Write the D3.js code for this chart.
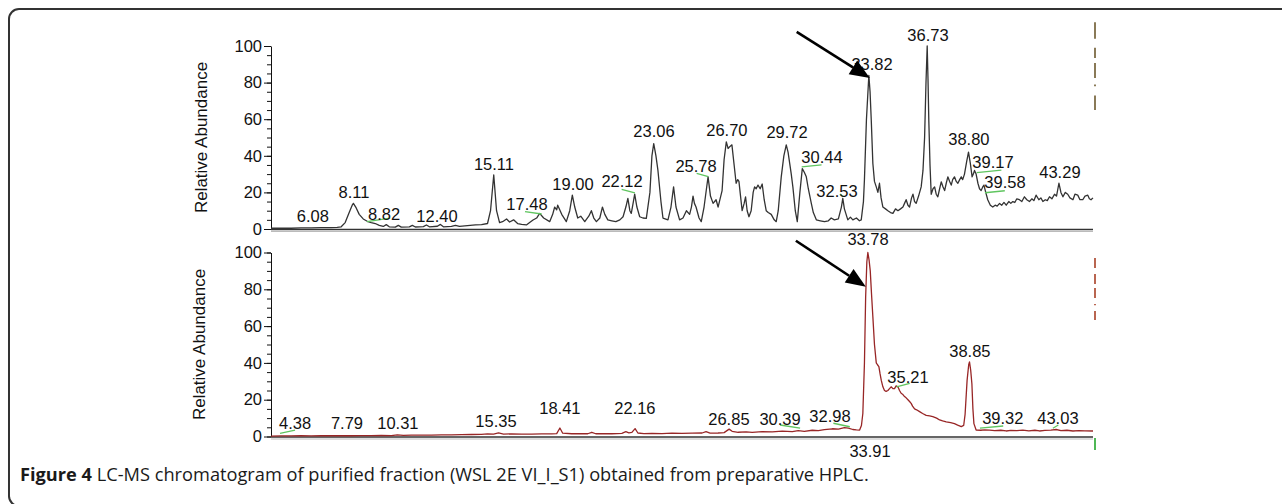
<!DOCTYPE html>
<html>
<head>
<meta charset="utf-8">
<script src="https://cdn.jsdelivr.net/npm/d3@7"></script>
<style>
  body { margin: 0; background: #fff; }
  svg { display: block; }
  .tick text { font-family: "Liberation Sans", Arial, sans-serif; }
</style>
</head>
<body>
<svg id="chart" width="1282" height="504"></svg>
<script>
// retention time (min) and relative abundance
var topTrace = [
  [4.0,0.4],[4.5,0.5],[5.0,0.4],[5.5,0.6],[6.0,0.6],[6.5,0.7],[7.0,0.8],[7.3,0.9],[7.5,1.2],[7.7,3.5],
  [7.9,9],[8.05,13],[8.11,14],[8.25,11.5],[8.4,8],[8.6,5.5],[8.8,4.2],[9.0,3.5],[9.2,3],[9.4,2],
  [9.6,1.4],[9.75,2.4],[9.9,1.2],[10.2,1],[10.35,2],[10.5,1],[10.9,1.2],[11.05,2],[11.2,1.1],[11.6,1.3],
  [11.75,2.2],[11.9,1.2],[12.3,1.5],[12.45,2.5],[12.6,1.2],[13.0,1.4],[13.2,2],[13.4,1.4],[13.8,1.8],[14.2,2.2],
  [14.5,2.4],[14.8,3],[14.95,10],[15.11,29.5],[15.25,10],[15.4,3.5],[15.55,4],[15.75,5.5],[15.9,3.8],[16.1,5],
  [16.3,3],[16.5,2.5],[16.74,2.2],[16.9,3.5],[17.07,4.9],[17.25,6],[17.4,8.5],[17.6,6],[17.9,4],[18.05,8],
  [18.15,12],[18.25,10.5],[18.3,13],[18.5,8],[18.73,4],[18.9,10],[19.03,18.5],[19.15,12],[19.3,6],[19.45,7],
  [19.65,4],[19.85,7],[19.98,10],[20.1,6],[20.23,4],[20.4,6],[20.53,12],[20.65,8],[20.8,5],[21.0,4.5],
  [21.2,4],[21.4,5],[21.56,6.7],[21.7,12],[21.8,16.7],[21.9,10],[21.97,8.5],[22.06,14],[22.14,19],[22.25,12],
  [22.39,6.7],[22.55,6],[22.72,5.8],[22.9,20],[23.0,40],[23.09,46.7],[23.2,40],[23.3,32],[23.45,15],[23.55,6],
  [23.8,5],[23.95,12],[24.08,23],[24.2,12],[24.38,5],[24.55,6],[24.72,10],[24.88,8],[24.97,12],[25.05,18],
  [25.12,14],[25.2,12],[25.35,6],[25.46,4],[25.6,12],[25.72,22],[25.8,28.5],[25.92,18],[26.05,14],[26.2,16],
  [26.3,12],[26.5,21],[26.6,38],[26.71,47.6],[26.8,44],[26.88,45],[26.99,46],[27.1,35],[27.2,25],[27.28,27],
  [27.34,26],[27.42,18],[27.5,10],[27.6,14],[27.67,17.6],[27.75,10],[27.84,6.7],[27.95,10],[28.05,20],[28.12,23],
  [28.2,22],[28.29,24],[28.4,22],[28.5,24.6],[28.6,16],[28.7,10],[28.8,9],[28.95,8],[29.1,5],[29.2,4],
  [29.3,10],[29.45,28.5],[29.58,40],[29.7,46],[29.79,42],[29.87,36],[29.95,30],[30.03,23],[30.15,10],[30.25,4],
  [30.38,20],[30.5,33],[30.6,31],[30.7,28.5],[30.8,22],[30.95,14],[31.05,9],[31.2,5],[31.4,4.5],[31.61,4],
  [31.8,4.5],[31.94,6],[32.1,5],[32.3,5.5],[32.45,12],[32.52,16.7],[32.6,11],[32.77,5],[32.9,6.5],[33.02,5],
  [33.2,6],[33.35,4.5],[33.44,5],[33.55,15],[33.6,27],[33.7,60],[33.82,84],[33.88,75],[33.94,59.5],[34.02,35.8],
  [34.1,26],[34.19,23],[34.27,20],[34.35,25],[34.43,17],[34.52,12],[34.65,11],[34.77,10],[34.9,9],[35.02,8.5],
  [35.15,11],[35.27,10],[35.4,11],[35.52,12],[35.6,14],[35.68,16],[35.77,13],[35.85,12],[35.95,17],[36.02,19],
  [36.1,15],[36.18,14],[36.3,18],[36.43,23],[36.52,32],[36.6,50],[36.67,80],[36.73,100],[36.77,82],[36.81,59.5],
  [36.87,35],[36.93,19],[37.02,22],[37.1,23],[37.18,19],[37.26,17.6],[37.35,22],[37.43,25.8],[37.52,23],[37.6,21],
  [37.68,25],[37.76,28.5],[37.85,26],[37.93,24],[38.0,27],[38.09,28.5],[38.18,26],[38.26,25],[38.35,27],[38.43,28.5],
  [38.5,27],[38.59,30],[38.7,37],[38.79,42],[38.88,36],[38.97,28.5],[39.03,30],[39.09,32],[39.17,30],[39.26,25],
  [39.34,22],[39.42,21],[39.5,23],[39.56,24],[39.65,20],[39.75,16],[39.88,13],[40.0,12],[40.12,13],[40.22,12.5],
  [40.34,14],[40.45,13],[40.56,14.5],[40.67,13],[40.8,15],[40.9,14],[41.0,15],[41.1,14.5],[41.2,16.5],[41.33,16],
  [41.45,15],[41.58,17.6],[41.7,16],[41.83,15],[41.95,16.5],[42.05,15.5],[42.16,18.5],[42.3,16],[42.4,17],[42.5,15],
  [42.62,16],[42.72,15.5],[42.83,17.6],[42.95,16.5],[43.08,19],[43.18,18],[43.3,25],[43.4,20],[43.5,17.6],[43.62,20],
  [43.74,19],[43.85,17],[44.0,16],[44.1,19],[44.24,18.5],[44.35,16],[44.49,16],[44.6,18],[44.74,18.5],[44.82,16.5],
  [44.9,16],[45.0,17]
];

var bottomTrace = [
  [4.0,0.2],[4.5,0.3],[5.0,0.3],[5.5,0.4],[6.0,0.3],[6.5,0.4],[7.0,0.4],[7.5,0.5],[8.0,0.4],[8.5,0.5],
  [9.0,0.5],[9.5,0.6],[10.0,0.5],[10.3,0.9],[10.6,0.6],[11.0,0.7],[11.5,0.8],[12.0,0.7],[12.5,0.9],[13.0,0.9],
  [13.5,1.0],[14.0,1.1],[14.5,1.2],[14.8,1.4],[15.1,1.3],[15.35,2.0],[15.6,1.3],[16.0,1.4],[16.5,1.3],[17.0,1.3],
  [17.5,1.4],[18.0,1.4],[18.25,1.6],[18.41,4.6],[18.55,1.8],[19.0,1.5],[19.5,1.6],[19.8,1.5],[20.0,2.3],[20.2,1.5],
  [20.6,1.6],[21.0,1.5],[21.5,1.7],[21.7,2.6],[21.85,2.0],[22.0,2.2],[22.16,4.3],[22.3,1.9],[22.6,1.6],[23.0,1.7],
  [23.5,1.6],[24.0,1.8],[24.5,1.7],[25.0,1.8],[25.5,1.9],[25.7,2.6],[25.9,1.8],[26.3,1.9],[26.6,2.1],[26.85,4.0],
  [27.0,2.8],[27.3,2.3],[27.7,2.5],[28.0,2.2],[28.5,2.6],[29.0,2.5],[29.5,2.9],[30.0,2.7],[30.3,3.2],[30.6,2.8],
  [31.0,3.4],[31.3,3.2],[31.6,3.7],[32.0,4.2],[32.3,4.0],[32.6,4.8],[32.8,4.6],[33.02,3.8],[33.2,3.6],[33.36,3.5],
  [33.45,6],[33.52,12.5],[33.6,40],[33.66,76],[33.72,95],[33.77,100],[33.83,96],[33.89,90],[33.95,78],[34.02,65],
  [34.1,50],[34.19,40],[34.25,39],[34.32,38],[34.38,34],[34.44,30.5],[34.52,27],[34.6,25],[34.68,24.5],[34.77,25],
  [34.85,26],[34.94,27],[35.02,26],[35.1,26],[35.18,27.5],[35.27,27],[35.35,25],[35.43,23.5],[35.5,23],[35.6,21.7],
  [35.68,21],[35.77,20],[35.85,19],[35.93,18],[36.0,16.5],[36.1,15],[36.2,14.5],[36.35,13.5],[36.5,12.5],[36.68,11.5],
  [36.85,11.2],[37.01,10.8],[37.2,10],[37.35,9],[37.5,8.5],[37.68,8],[37.9,7.5],[38.09,7],[38.25,6.2],[38.43,5.4],
  [38.55,6],[38.62,12],[38.72,30.5],[38.8,39],[38.84,40.6],[38.9,36],[38.96,28.5],[39.01,15],[39.06,7],[39.17,3.5],
  [39.4,3.4],[39.6,3.6],[39.84,3.5],[40.1,3.2],[40.4,3.4],[40.67,3.0],[40.9,3.3],[41.2,3.2],[41.5,3.5],[41.8,3.1],
  [42.1,3.4],[42.33,3.0],[42.6,3.3],[42.9,3.5],[43.16,3.8],[43.4,3.2],[43.7,3.4],[44.0,3.0],[44.3,3.2],[44.6,3.1],
  [45.0,3.0]
];

// peak labels: text, time at label centre, abundance at label baseline
var topLabels = [
  ["6.08",6.09,3.8],["8.11",8.14,16.9],["8.82",9.64,4.9],["12.40",12.28,3.8],["15.11",15.12,32.2],
  ["17.48",16.77,10.4],["19.00",19.06,21.3],["22.12",21.51,23],["23.06",23.1,50.3],["25.78",25.2,31.1],
  ["26.70",26.74,50.8],["29.72",29.74,49.7],["30.44",31.48,36],["32.53",32.23,17.5],["33.82",33.98,86.9],
  ["36.73",36.77,102.7],["38.80",38.81,45.9],["39.17",40.01,33.3],["39.58",40.61,22.4],["43.29",43.35,27.9]
];
var bottomLabels = [
  ["4.38",5.2,4.1],["7.79",7.79,4.1],["10.31",10.33,4.1],["15.35",15.22,5.2],["18.41",18.41,12.2],
  ["22.16",22.15,12.2],["26.85",26.84,6.25],["30.39",29.39,6.25],["32.98",31.88,7.9],["33.78",33.78,104],
  ["35.21",35.77,29],["38.85",38.86,43.2],["39.32",40.5,6.8],["43.03",43.25,6.8],["33.91",33.88,-11]
];

// small green integration marks: [t1, v1, t2, v2]
var topMarks = [
  [8.79,4.0,9.94,6.0],[16.67,9.5,17.5,8.2],[21.49,21.7,22.15,19.8],[25.23,30.4,25.81,28.6],
  [30.47,34,31.46,35],[32.38,19.1,32.54,17.6],[39.2,30.8,40.43,32.2],[39.61,19.8,40.6,20.9]
];
var bottomMarks = [
  [4.45,1.7,5.2,3.5],[29.39,6.25,30.39,4.5],[32.05,7.2,32.87,5.3],[35.2,27,35.86,28.9],
  [39.36,4.5,40.52,5.7],[43.0,4.5,43.27,6.25]
];

// arrows: [fromT, fromV, toT, toV]
var topArrow = [30.22,107.7,33.87,82.5];
var bottomArrow = [30.18,106.4,33.67,81.4];

// scan-range markers at the right edge, in abundance units
var topDashes = [[113,104],[99,93.4],[90.7,82.5],[79,78],[73,65]];
var bottomDashes = [[97,91.6],[88.3,82.9],[80.7,75.3],[72,71.3],[68.2,63.3]];
var bottomGreen = [-0.8,-7.3];

var yTicks = [0,20,40,60,80,100];
var yMinor = d3.range(0,101,5);
var timeDomain = [4,45];

var caption = "LC-MS chromatogram of purified fraction (WSL 2E VI_I_S1) obtained from preparative HPLC.";

var svg = d3.select("#chart");
var font = '"Liberation Sans", Arial, sans-serif';

// frame
svg.append("rect")
  .attr("x", 9).attr("y", 9)
  .attr("width", 1320).attr("height", 497)
  .attr("rx", 10)
  .attr("fill", "none")
  .attr("stroke", "#333")
  .attr("stroke-width", 2);

var x = d3.scaleLinear().domain(timeDomain).range([271, 1093]);

function drawPanel(cfg) {
  var y = d3.scaleLinear().domain([0,100]).range(cfg.range);
  var g = svg.append("g");

  // minor ticks
  g.append("g")
    .attr("transform", "translate(271,0)")
    .call(d3.axisLeft(y).tickValues(yMinor).tickSize(4).tickFormat("").tickSizeOuter(0))
    .call(s => s.select(".domain").remove())
    .call(s => s.selectAll("line").attr("stroke", "#111"));

  // major ticks + labels
  g.append("g")
    .attr("transform", "translate(271,0)")
    .call(d3.axisLeft(y).tickValues(yTicks).tickSize(7).tickPadding(2).tickSizeOuter(0))
    .call(s => s.selectAll("text").attr("font-size", 16.5).attr("font-family", font).attr("fill", "#111"))
    .call(s => s.selectAll("line, path").attr("stroke", "#111"));

  // baseline
  g.append("line")
    .attr("x1", x(timeDomain[0])).attr("x2", x(timeDomain[1]))
    .attr("y1", y(0) + 0.5).attr("y2", y(0) + 0.5)
    .attr("stroke", "#333").attr("stroke-width", 1.6);
  g.append("line")
    .attr("x1", x(timeDomain[0])).attr("x2", x(timeDomain[1]))
    .attr("y1", y(0) + 2.5).attr("y2", y(0) + 2.5)
    .attr("stroke", "#bbb").attr("stroke-width", 1);

  // axis title
  var mid = (cfg.range[0] + cfg.range[1]) / 2;
  g.append("text")
    .attr("transform", "translate(" + cfg.titleX + "," + mid + ") rotate(-90)")
    .attr("text-anchor", "middle")
    .attr("font-family", font)
    .attr("font-size", 17)
    .attr("fill", "#111")
    .text("Relative Abundance");

  // trace
  var line = d3.line().x(d => x(d[0])).y(d => y(d[1]));
  g.append("path")
    .datum(cfg.trace)
    .attr("d", line)
    .attr("fill", "none")
    .attr("stroke", cfg.color)
    .attr("stroke-width", 1.3)
    .attr("stroke-linejoin", "round");

  // green marks
  g.selectAll(".mark").data(cfg.marks).enter().append("line")
    .attr("x1", d => x(d[0])).attr("y1", d => y(d[1]))
    .attr("x2", d => x(d[2])).attr("y2", d => y(d[3]))
    .attr("stroke", "#5fc55f").attr("stroke-width", 1.3);

  // labels
  g.selectAll(".lbl").data(cfg.labels).enter().append("text")
    .attr("x", d => x(d[1]))
    .attr("y", d => y(d[2]))
    .attr("text-anchor", "middle")
    .attr("font-family", font)
    .attr("font-size", 16.5)
    .attr("fill", "#111")
    .text(d => d[0]);

  // right edge markers
  g.selectAll(".dash").data(cfg.dashes).enter().append("line")
    .attr("x1", 1095).attr("x2", 1095)
    .attr("y1", d => y(d[0])).attr("y2", d => y(d[1]))
    .attr("stroke", cfg.dashColor).attr("stroke-width", 1.8);

  // arrow
  var a = cfg.arrow;
  var x1 = x(a[0]), y1 = y(a[1]), x2 = x(a[2]), y2 = y(a[3]);
  var ang = Math.atan2(y2 - y1, x2 - x1);
  var len = 20, half = 8;
  var bx = x2 - len * Math.cos(ang), by = y2 - len * Math.sin(ang);
  g.append("line")
    .attr("x1", x1).attr("y1", y1).attr("x2", bx).attr("y2", by)
    .attr("stroke", "#000").attr("stroke-width", 2.6);
  g.append("path")
    .attr("d", "M" + x2 + "," + y2 +
      "L" + (bx + half * Math.sin(ang)) + "," + (by - half * Math.cos(ang)) +
      "L" + (bx - half * Math.sin(ang)) + "," + (by + half * Math.cos(ang)) + "Z")
    .attr("fill", "#000");

  return y;
}

drawPanel({
  range: [229, 46], trace: topTrace, color: "#333", labels: topLabels, marks: topMarks,
  arrow: topArrow, dashes: topDashes, dashColor: "#7d6b45", titleX: 207
});

var yb = drawPanel({
  range: [436.5, 252.5], trace: bottomTrace, color: "#982626", labels: bottomLabels, marks: bottomMarks,
  arrow: bottomArrow, dashes: bottomDashes, dashColor: "#b2553e", titleX: 205
});

svg.append("line")
  .attr("x1", 1095).attr("x2", 1095)
  .attr("y1", yb(bottomGreen[0])).attr("y2", yb(bottomGreen[1]))
  .attr("stroke", "#3cb043").attr("stroke-width", 1.8);

// caption
var cap = svg.append("text")
  .attr("x", 20).attr("y", 481)
  .attr("font-family", '"Open Sans", "Noto Sans", sans-serif')
  .attr("font-size", 16)
  .attr("fill", "#1a1a1a");
cap.append("tspan").attr("font-weight", "bold").text("Figure 4");
cap.append("tspan").text(" " + caption);
var w = cap.node().getComputedTextLength();
cap.attr("font-size", 16 * 849 / w);
</script>
</body>
</html>
